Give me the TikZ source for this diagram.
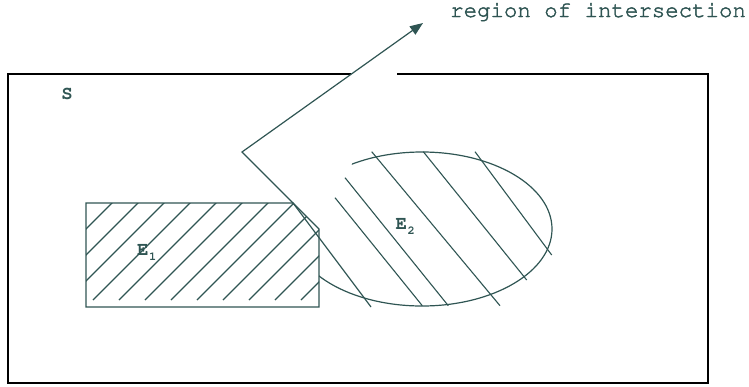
\documentclass[tikz,border=0pt]{standalone}
\usetikzlibrary{arrows.meta}
\definecolor{slate}{HTML}{2F5553}
\newcommand{\courierfont}{\fontencoding{T1}\fontfamily{pcr}\selectfont}
\newcommand{\thicktext}[2]{\special{pdf:literal direct 2 Tr #1 w}#2\special{pdf:literal direct 0 Tr}}
\tikzset{
  frame/.style={draw=black, line width=1.8pt},
  shape line/.style={draw=slate, line width=1.2pt},
  hatch/.style={draw=slate, line width=1.1pt},
  ptr/.style={draw=slate, line width=1.2pt},
  lbl/.style={text=slate, inner sep=0pt, font=\courierfont\bfseries\fontsize{19}{19}\selectfont},
  caption/.style={text=slate, inner sep=0pt, font=\courierfont\fontsize{22.4}{22.4}\selectfont}
}
\newcommand{\subsc}[1]{\hspace{0.5pt}\raisebox{-5pt}{\fontsize{12}{12}\selectfont #1}}
\begin{document}
\begin{tikzpicture}[x=1pt,y=-1pt]
\useasboundingbox (0,0) rectangle (749,386);
% outer frame S with a gap in the top edge
\coordinate (s1) at (351,74);
\coordinate (s2) at (397,74);
\draw[frame, line join=miter] (s1) -- (8,74) -- (8,383) -- (708,383) -- (708,74) -- (s2);
% E1 pentagon
\coordinate (a1) at (86,203);
\coordinate (a2) at (293,203);
\coordinate (a3) at (319,229);
\coordinate (a4) at (319,307);
\coordinate (a5) at (86,307);
\begin{scope}
  \clip (a1) -- (a2) -- (a3) -- (a4) -- (a5) -- cycle;
  \foreach \j in {1,...,12} {
    \draw[hatch] ({289+26*\j-300},300) -- ({289+26*\j+300},-300);
  }
\end{scope}
\draw[shape line, line join=miter] (a1) -- (a2) -- (a3) -- (a4) -- (a5) -- cycle;
% E2 ellipse (open on the left)
\begin{scope}
  \clip (352,164) -- (418,-60) -- (800,-60) -- (800,500) -- (253,500) -- (319,276) -- cycle;
  \draw[shape line] (422,229) ellipse [x radius=130pt, y radius=77pt];
\end{scope}
% E2 hatch lines
\draw[hatch] (335,197.7) -- (422.3,305.7);
\draw[hatch] (345,177.7) -- (448.3,305.7);
\draw[hatch] (371.7,151.7) -- (500,305.7);
\draw[hatch] (423.3,151.7) -- (526.7,280);
\draw[hatch] (475,151.7) -- (551.7,255);
% pointer
\coordinate (pend) at (371,307);
\coordinate (bend) at (293,203);
\coordinate (v) at (242,152);
\coordinate (tip) at (423,23);
\draw[ptr, line join=miter, -{Triangle[length=13pt,width=10pt]}] (pend) -- (bend) -- (v) -- (tip);
% labels
\node[caption, anchor=base west] (cap) at (450,17) {\thicktext{0.45}{region of intersection}};
\node[lbl, anchor=base] (S) at (67,99.3) {S};
\node[lbl, anchor=base west] (E1) at (137,255) {E\subsc{1}};
\node[lbl, anchor=base west] (E2) at (395.5,229.3) {E\subsc{2}};
\end{tikzpicture}
\end{document}
